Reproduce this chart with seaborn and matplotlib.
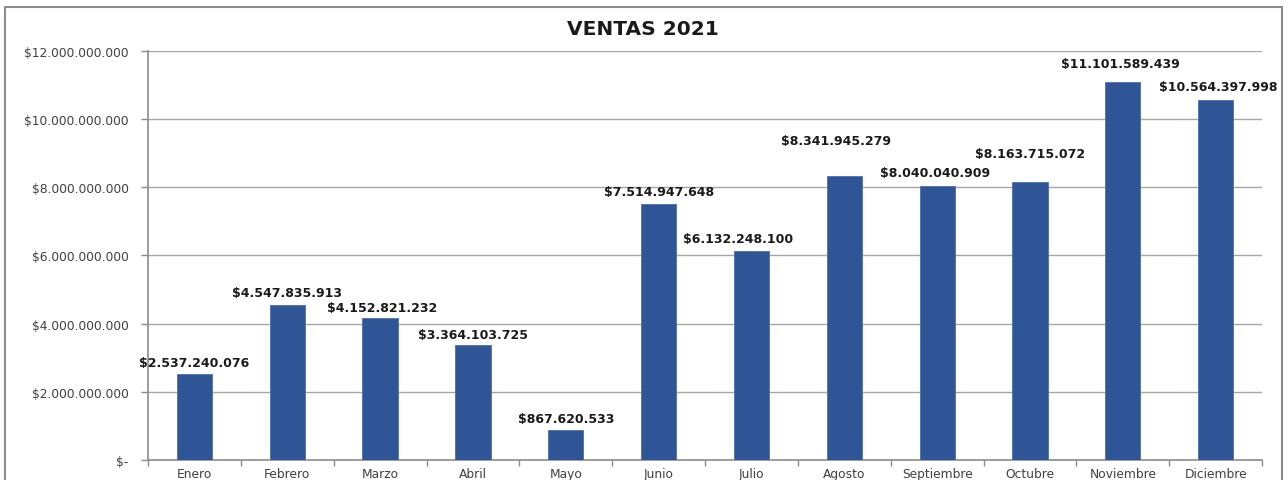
import matplotlib
matplotlib.use('Agg')
import matplotlib.pyplot as plt
from matplotlib.patches import Rectangle
from matplotlib.ticker import FuncFormatter, MultipleLocator, FixedLocator
import pandas as pd
import seaborn as sns

sns.set_style('white')

# data
months = ['Enero', 'Febrero', 'Marzo', 'Abril', 'Mayo', 'Junio', 'Julio',
          'Agosto', 'Septiembre', 'Octubre', 'Noviembre', 'Diciembre']
sales = [2537240076, 4547835913, 4152821232, 3364103725, 867620533,
         7514947648, 6132248100, 8341945279, 8040040909, 8163715072,
         11101589439, 10564397998]

# label nudges (pixels) -- excel put some labels off-centre
label_dx = [0, 0, 2, 0, 0, 0, -13, -8, -2, 0, -2, 3]
label_dy = [11, 12, 11, 11, 12, 12, 12, 35, 13, 28, 18, 13]


def money(v):
    return '$' + f'{int(round(v)):,}'.replace(',', '.')


def axis_money(v, pos):
    if v == 0:
        return '$-'
    return money(v)


def main():
    df = pd.DataFrame({'mes': months, 'ventas': sales})

    fig = plt.figure(figsize=(12.88, 4.81), dpi=100)
    ax = fig.add_axes([0.1149, 0.0416, 0.8650, 0.8503])

    sns.barplot(data=df, x='mes', y='ventas', color='#2F5597', saturation=1,
                width=0.38, ax=ax, zorder=3)
    for p in ax.patches:
        p.set_edgecolor('#4a6fb0')
        p.set_linewidth(0.6)

    ax.set_ylim(0, 12e9)
    ax.set_xlim(-0.5, len(months) - 0.5)
    ax.yaxis.set_major_locator(MultipleLocator(2e9))
    ax.yaxis.set_major_formatter(FuncFormatter(axis_money))
    ax.grid(axis='y', color='#a6a6a6', linewidth=1, zorder=0)
    ax.set_xlabel('')
    ax.set_ylabel('')

    for s in ['top', 'right']:
        ax.spines[s].set_visible(False)
    for s in ['left', 'bottom']:
        ax.spines[s].set_color('#8c8c8c')
        ax.spines[s].set_linewidth(1.2)

    ax.tick_params(axis='y', which='major', direction='out', length=5,
                   width=1, color='#8c8c8c', labelsize=8.8, labelcolor='#404040',
                   pad=9, left=True)
    ax.tick_params(axis='x', which='major', length=0, labelsize=8.8,
                   labelcolor='#404040', pad=5)
    ax.xaxis.set_minor_locator(FixedLocator([i - 0.5 for i in range(len(months) + 1)]))
    ax.tick_params(axis='x', which='minor', direction='out', length=4,
                   width=1, color='#8c8c8c', bottom=True)

    for i, v in enumerate(sales):
        ax.annotate(money(v), (i, v), xytext=(label_dx[i], label_dy[i]),
                    textcoords='offset pixels', ha='center', va='center',
                    fontsize=9, fontweight='bold', color='#1a1a1a')

    fig.text(0.4992, 0.938, 'VENTAS 2021', ha='center', va='center',
             fontsize=14.5, fontweight='bold', color='#1a1a1a')

    fig.patches.append(Rectangle((0.0039, -0.2), 0.9914, 1.1834,
                                 transform=fig.transFigure, fill=False,
                                 edgecolor='#8c8c8c', linewidth=1.5))

    fig.savefig('out.png', dpi=100)
    plt.close(fig)


if __name__ == '__main__':
    main()
